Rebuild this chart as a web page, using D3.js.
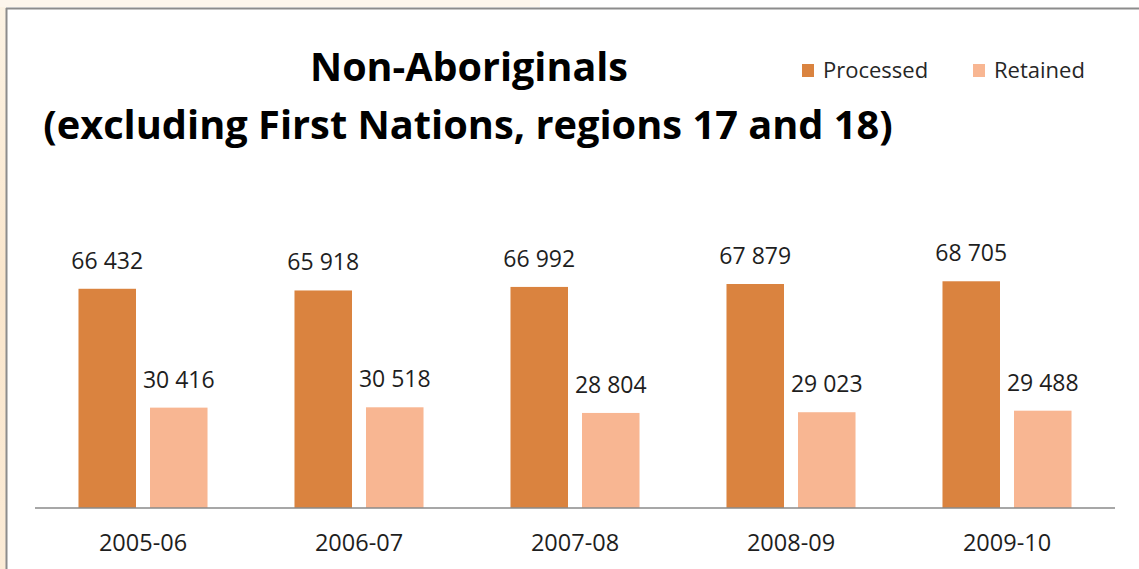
<!DOCTYPE html>
<html>
<head>
<meta charset="utf-8">
<script src="https://cdn.jsdelivr.net/npm/d3@7/dist/d3.min.js"></script>
<style>
  html, body { margin: 0; padding: 0; background: #ffffff; }
  svg { display: block; }
  text { font-family: "Open Sans", "Noto Sans", sans-serif; }
</style>
</head>
<body>
<svg id="chart" width="1139" height="569"></svg>
<script>
const categories = ["2005-06", "2006-07", "2007-08", "2008-09", "2009-10"];
const seriesNames = ["Processed", "Retained"];
const processed = [66432, 65918, 66992, 67879, 68705];
const retained = [30416, 30518, 28804, 29023, 29488];
const titleLines = ["Non-Aboriginals", "(excluding First Nations, regions 17 and 18)"];
const colors = ["#DA833F", "#F8B692"];

const W = 1139, H = 569;
const svg = d3.select("#chart");

// backdrop outside the frame
const defs = svg.append("defs");
const g1 = defs.append("linearGradient").attr("id", "leftbg").attr("x1", 0).attr("x2", 0).attr("y1", 0).attr("y2", 1);
g1.append("stop").attr("offset", 0).attr("stop-color", "#FCF3E4");
g1.append("stop").attr("offset", 0.5).attr("stop-color", "#FAE6CC");
g1.append("stop").attr("offset", 1).attr("stop-color", "#FBEBD6");
svg.append("rect").attr("x", 0).attr("y", 0).attr("width", W).attr("height", H).attr("fill", "#fff");
svg.append("rect").attr("x", 0).attr("y", 0).attr("width", 6).attr("height", H).attr("fill", "url(#leftbg)");
svg.append("rect").attr("x", 0).attr("y", 0).attr("width", 540).attr("height", 7).attr("fill", "#FDF6EC");
// frame
svg.append("line").attr("x1", 6).attr("x2", W).attr("y1", 8.5).attr("y2", 8.5).attr("stroke", "#8c8c8c").attr("stroke-width", 2);
svg.append("line").attr("x1", 6.5).attr("x2", 6.5).attr("y1", 8).attr("y2", H).attr("stroke", "#8c8c8c").attr("stroke-width", 2);

// title
function fitText(sel, targetW) {
  let fs = parseFloat(sel.attr("font-size"));
  const w = sel.node().getComputedTextLength();
  sel.attr("font-size", fs * targetW / w);
}
const t1 = svg.append("text").attr("x", 469).attr("y", 81).attr("text-anchor", "middle")
  .attr("font-weight", "bold").attr("font-size", 40).attr("fill", "#000").text(titleLines[0]);
fitText(t1, 318);
const t2 = svg.append("text").attr("x", 468).attr("y", 139).attr("text-anchor", "middle")
  .attr("font-weight", "bold").attr("font-size", 40).attr("fill", "#000").text(titleLines[1]);
fitText(t2, 850);

// scales
const x0 = d3.scaleBand().domain(categories).range([35, 1115]).paddingInner(0).paddingOuter(0);
const x1 = d3.scaleBand().domain(seriesNames).range([0, x0.bandwidth()]).paddingInner(0.196).paddingOuter(0.608);
const y = d3.scaleLinear().domain([0, 80000]).range([508, 244]);

const locale = d3.formatLocale({ decimal: ",", thousands: " ", grouping: [3], currency: ["", ""] });
const fmt = locale.format(",d");

const rows = categories.map((c, i) => ({ cat: c, vals: [processed[i], retained[i]] }));

const groups = svg.append("g").selectAll("g").data(rows).join("g")
  .attr("transform", d => `translate(${x0(d.cat)},0)`);

groups.selectAll("rect").data(d => d.vals.map((v, j) => ({ s: seriesNames[j], v, j }))).join("rect")
  .attr("x", d => x1(d.s)).attr("width", x1.bandwidth())
  .attr("y", d => y(d.v)).attr("height", d => y(0) - y(d.v))
  .attr("fill", d => colors[d.j]);

groups.selectAll("text.val").data(d => d.vals.map((v, j) => ({ s: seriesNames[j], v, j }))).join("text")
  .attr("class", "val")
  .attr("x", d => x1(d.s) + x1.bandwidth() / 2)
  .attr("y", d => y(d.v) - 20)
  .attr("text-anchor", "middle").attr("font-size", 23).attr("fill", "#1e1e1e")
  .text(d => fmt(d.v));

// x axis
const xAxis = d3.axisBottom(x0).tickSize(0).tickPadding(0);
const ax = svg.append("g").attr("transform", "translate(0,508)").call(xAxis);
ax.select(".domain").attr("stroke", "#8a8a8a").attr("stroke-width", 1.5).attr("d", "M35,0H1115");
ax.selectAll(".tick text").attr("font-family", "'Open Sans', sans-serif").attr("font-size", 23.5)
  .attr("fill", "#1e1e1e").attr("dy", null).attr("y", 43);

// legend
const legX = [802, 973];
const leg = svg.append("g").selectAll("g").data(seriesNames).join("g")
  .attr("transform", (d, i) => `translate(${legX[i]},0)`);
leg.append("rect").attr("x", 0).attr("y", 64).attr("width", 12).attr("height", 13).attr("fill", (d, i) => colors[i]);
leg.append("text").attr("x", 21).attr("y", 78).attr("font-size", 22).attr("fill", "#262626").text(d => d);
</script>
</body>
</html>
